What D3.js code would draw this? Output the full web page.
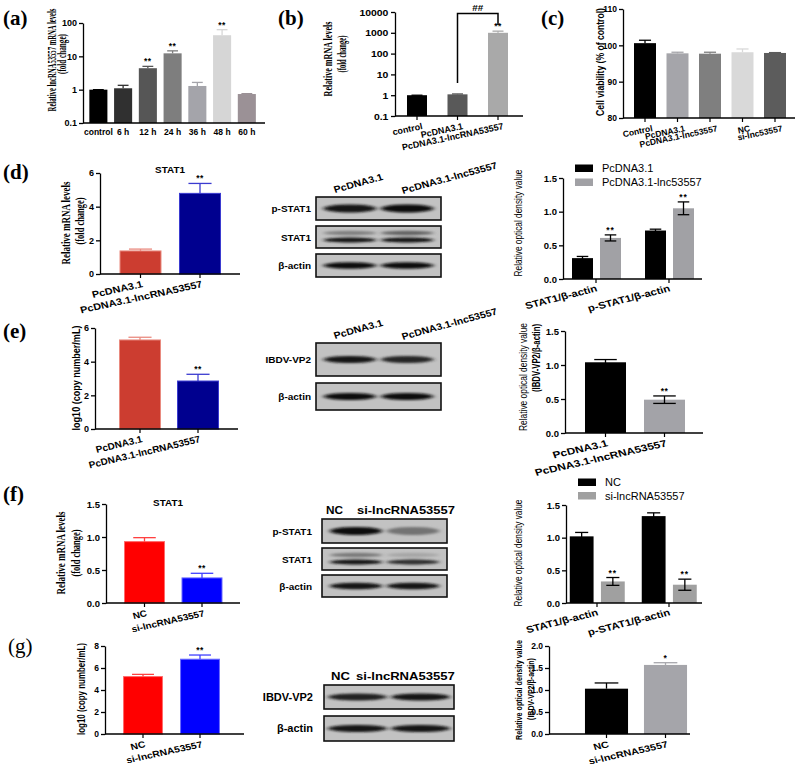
<!DOCTYPE html>
<html><head><meta charset="utf-8">
<script src="https://cdn.jsdelivr.net/npm/d3@7"></script>
<style>body{margin:0;background:#fff}</style>
</head><body>
<script>
// ================= DATA =================
const aCats = ["control","6 h","12 h","24 h","36 h","48 h","60 h"];
const aVals = [1.0, 1.1, 4.4, 12.3, 1.29, 43, 0.74];
const aHi   = [1.0, 1.35, 5.0, 14.6, 1.65, 63, 0.76];
const aSig  = ["","","**","**","","**",""];
const aTicks = [0.1,1,10,100];

const bCats = ["control","PcDNA3.1","PcDNA3.1-lncRNA53557"];
const bVals = [1.0, 1.1, 1000];
const bHi   = [1.0, 1.15, 1200];
const bSig  = ["","","**"];
const bTicks = [0.1,1,10,100,1000,10000];

const cCats = ["Control","PcDNA3.1","PcDNA3.1-lnc53557","NC","si-lnc53557"];
const cVals = [100.6, 97.8, 97.7, 98.1, 97.9];
const cHi   = [101.4, 98.1, 98.1, 99.0, 98.0];
const cTicks = [80,90,100,110];

const dCats = ["PcDNA3.1","PcDNA3.1-lncRNA53557"];
const dVals = [1.37, 4.79];
const dHi   = [1.48, 5.38];
const dSig  = ["","**"];
const dTicks = [0,2,4,6];

const dGroups = ["STAT1/β-actin","p-STAT1/β-actin"];
const dSeries = ["PcDNA3.1","PcDNA3.1-lnc53557"];
const dOD    = [[0.31,0.61],[0.72,1.05]];
const dODerr = [[0.025,0.045],[0.02,0.095]];
const dODsig = [["","**"],["","**"]];
const odTicks = [0,0.5,1.0,1.5];

const dBlotRows  = ["p-STAT1","STAT1","β-actin"];
const dBlotLanes = ["PcDNA3.1","PcDNA3.1-lnc53557"];
const dBlotMain  = [[0.93,0.97],[0.9,0.92],[0.96,0.96]];
const dBlotUpper = [[0,0],[0.35,0.5],[0,0]];

const eCats = ["PcDNA3.1","PcDNA3.1-lncRNA53557"];
const eVals = [5.29, 2.85];
const eHi   = [5.45, 3.25];
const eSig  = ["","**"];
const eTicks = [0,2,4,6];
const eBlotRows  = ["IBDV-VP2","β-actin"];
const eBlotMain  = [[0.9,0.82],[0.95,0.95]];
const eOD    = [1.04, 0.49];
const eODerr = [0.04, 0.055];
const eODsig = ["","**"];

const fCats = ["NC","si-lncRNA53557"];
const fVals = [0.93, 0.38];
const fHi   = [0.99, 0.45];
const fSig  = ["","**"];
const fTicks = [0,0.5,1.0,1.5];
const fGroups = ["STAT1/β-actin","p-STAT1/β-actin"];
const fSeries = ["NC","si-lncRNA53557"];
const fOD    = [[1.02,0.33],[1.33,0.28]];
const fODerr = [[0.06,0.06],[0.05,0.085]];
const fODsig = [["","**"],["","**"]];
const fBlotRows  = ["p-STAT1","STAT1","β-actin"];
const fBlotLanes = ["NC","si-lncRNA53557"];
const fBlotMain  = [[0.97,0.42],[0.9,0.78],[0.93,0.93]];
const fBlotUpper = [[0,0],[0.38,0.15],[0,0]];

const gCats = ["NC","si-lncRNA53557"];
const gVals = [5.22, 6.8];
const gHi   = [5.42, 7.18];
const gSig  = ["","**"];
const gTicks = [0,2,4,6,8];
const gBlotRows = ["IBDV-VP2","β-actin"];
const gBlotMain = [[0.85,0.93],[0.93,0.93]];
const gOD    = [1.03, 1.57];
const gODerr = [0.13, 0.05];
const gODsig = ["","*"];
const gODTicks = [0,0.5,1.0,1.5,2.0];

// ================= DRAWING =================
const W=800,H=765;
const SANS="'Liberation Sans', Arial, sans-serif";
const SERIF="'Liberation Serif','Times New Roman', serif";
const svg=d3.select("body").append("svg").attr("width",W).attr("height",H);
svg.append("rect").attr("width",W).attr("height",H).attr("fill","#fff");
const defs=svg.append("defs");
defs.append("filter").attr("id","blur").attr("x","-30%").attr("y","-150%").attr("width","160%").attr("height","400%")
  .append("feGaussianBlur").attr("stdDeviation","2.4 1.1");

// text helper; when o.len is given the font size is fitted to that length and
// the glyphs are stretched across the line to keep the visual height of o.fs
function txt(p,s,x,y,o={}){
  const fs=o.fs||9;
  const t=p.append("text").text(s)
    .attr("font-family",o.ff||SANS).attr("font-size",fs).attr("font-weight",o.fw||"bold")
    .attr("text-anchor",o.anchor||"start").attr("fill",o.fill||"#000");
  if(o.ls) t.attr("letter-spacing",o.ls);
  let sx=o.sx||1, sy=1;
  if(o.len){
    const L=t.node().getComputedTextLength();
    const f2=fs*o.len/L; t.attr("font-size",f2);
    const k=fs/f2;
    if(o.rot===-90) sx*=k; else sy*=k;
  }
  t.attr("transform",`translate(${x},${y})`+((sx!==1||sy!==1)?` scale(${sx},${sy})`:"")+(o.rot?` rotate(${o.rot})`:""));
  return t;
}
const fmt1=d3.format(".1f");

function yAxis(g,y,o){
  const ax=d3.axisLeft(y).tickValues(o.ticks).tickFormat(o.fmt||(d=>d)).tickSize(4).tickSizeOuter(0).tickPadding(2);
  const a=g.append("g").attr("transform",`translate(${o.x0},0)`).call(ax);
  a.selectAll("path,line").attr("stroke","#000").attr("stroke-width",1.3);
  a.selectAll("text").attr("font-family",SANS).attr("font-weight","bold").attr("font-size",o.tickFs||9.5)
    .attr("fill","#000").attr("transform",`scale(${o.tickSx||1},1)`);
  a.attr("font-family",null).attr("font-size",null);
  g.append("line").attr("x1",o.x0).attr("x2",o.x1).attr("y1",o.yBot).attr("y2",o.yBot).attr("stroke","#000").attr("stroke-width",1.3);
}

function errBar(g,cx,top,bot,cap,color,lower){
  g.append("line").attr("x1",cx).attr("x2",cx).attr("y1",top).attr("y2",bot).attr("stroke",color).attr("stroke-width",1.3);
  g.append("line").attr("x1",cx-cap/2).attr("x2",cx+cap/2).attr("y1",top).attr("y2",top).attr("stroke",color).attr("stroke-width",1.3);
  if(lower) g.append("line").attr("x1",cx-cap/2).attr("x2",cx+cap/2).attr("y1",bot).attr("y2",bot).attr("stroke",color).attr("stroke-width",1.3);
}

function barPanel(o){
  const g=svg.append("g");
  const y=(o.log?d3.scaleLog():d3.scaleLinear()).domain([o.ticks[0],o.ticks[o.ticks.length-1]]).range([o.yBot,o.yTop]);
  const x=d3.scaleBand().domain(o.cats).range(o.band).paddingInner(o.pad).paddingOuter(o.pad/2);
  const bw=x.bandwidth(), cx=d=>x(d)+bw/2;
  g.selectAll("rect.bar").data(o.cats).join("rect").attr("class","bar")
    .attr("x",d=>x(d)+(o.strokes?0.5:0)).attr("width",bw-(o.strokes?1:0))
    .attr("y",(d,i)=>y(o.vals[i])).attr("height",(d,i)=>o.yBot-y(o.vals[i]))
    .attr("fill",(d,i)=>o.colors[i])
    .attr("stroke",(d,i)=>o.strokes?o.strokes[i]:"none").attr("stroke-width",1);
  const cap=bw*(o.capFrac||0.55);
  o.cats.forEach((d,i)=>{
    const ec=o.errColors?o.errColors[i]:o.colors[i];
    const top=y(o.hi[i]);
    const lo=o.lo?y(o.lo[i]):y(o.vals[i]);
    errBar(g,cx(d),top,lo,cap,ec,!!o.lo);
    if(o.sig&&o.sig[i]) txt(g,o.sig[i],cx(d),top-2,{anchor:"middle",fs:o.sigFs||8.5,ls:0.5});
  });
  yAxis(g,y,o);
  if(o.xticks!==false){
    o.cats.forEach(d=>g.append("line").attr("x1",cx(d)).attr("x2",cx(d)).attr("y1",o.yBot).attr("y2",o.yBot+4).attr("stroke","#000").attr("stroke-width",1.2));
  }
  o.cats.forEach((d,i)=>{
    if(o.rot===0) txt(g,d,cx(d),o.yBot+12,{anchor:"middle",fs:o.xFs||9});
    else txt(g,d,cx(d)+(o.ldx||3),o.yBot+(o.ldy||11),{anchor:"end",fs:o.xFs||9,rot:o.rot||-13,sx:o.xsx||1});
  });
  return {g,x,y,cx};
}

function groupPanel(o){
  const g=svg.append("g");
  const y=d3.scaleLinear().domain([o.ticks[0],o.ticks[o.ticks.length-1]]).range([o.yBot,o.yTop]);
  const x0=d3.scaleBand().domain(o.groups).range(o.band).padding(0);
  const x1=d3.scaleBand().domain(o.series).range(o.inner).paddingInner(o.pad).paddingOuter(0);
  const bw=x1.bandwidth();
  o.groups.forEach((gr,gi)=>{
    o.series.forEach((s,si)=>{
      const bx=x0(gr)+x1(s), v=o.vals[gi][si], e=o.err[gi][si];
      g.append("rect").attr("x",bx).attr("width",bw).attr("y",y(v)).attr("height",o.yBot-y(v)).attr("fill",o.colors[si]);
      errBar(g,bx+bw/2,y(v+e),y(v-e),bw*0.55,"#000",true);
      if(o.sig[gi][si]) txt(g,o.sig[gi][si],bx+bw/2,y(v+e)-2,{anchor:"middle",fs:8.5,ls:1});
    });
    const gc=x0(gr)+x0.bandwidth()/2;
    g.append("line").attr("x1",gc).attr("x2",gc).attr("y1",o.yBot).attr("y2",o.yBot+4).attr("stroke","#000").attr("stroke-width",1.2);
    txt(g,gr,gc+(o.ldx||2),o.yBot+(o.ldy||12),{anchor:"end",fs:9.5,rot:-17,sx:1.2});
  });
  yAxis(g,y,o);
  if(o.legend){
    o.series.forEach((s,si)=>{
      g.append("rect").attr("x",o.legend[0]).attr("y",o.legend[1]+si*o.legend[2]).attr("width",18).attr("height",7.5).attr("fill",o.colors[si]);
      txt(g,s,o.legend[0]+27,o.legend[1]+si*o.legend[2]+7.5,{fw:"normal",fs:10.5,sx:1.05});
    });
  }
  return g;
}

function blotPanel(o){
  const g=svg.append("g");
  const lx=d3.scaleBand().domain(o.lanes).range([o.x0,o.x1]).paddingInner(o.pi).paddingOuter(o.po);
  const bw=lx.bandwidth();
  o.rows.forEach((r,ri)=>{
    const y0=o.boxes[ri][0], y1=o.boxes[ri][1], mid=(y0+y1)/2;
    const cid="clip"+o.id+ri;
    defs.append("clipPath").attr("id",cid).append("rect").attr("x",o.x0).attr("y",y0).attr("width",o.x1-o.x0).attr("height",y1-y0);
    g.append("rect").attr("x",o.x0).attr("y",y0).attr("width",o.x1-o.x0).attr("height",y1-y0).attr("fill","#c2c2c2");
    const bg=g.append("g").attr("clip-path",`url(#${cid})`);
    o.lanes.forEach((l,li)=>{
      const cx=lx(l)+bw/2;
      const col=d3.interpolateRgb("#c2c2c2","#050505");
      if(o.upper && o.upper[ri][li]>0)
        bg.append("ellipse").attr("cx",cx).attr("cy",mid-4).attr("rx",bw/2).attr("ry",2.2).attr("fill",col(o.upper[ri][li])).attr("filter","url(#blur)");
      const dy=(o.upper && (o.upper[ri][0]>0||o.upper[ri][1]>0))?3:0;
      bg.append("ellipse").attr("cx",cx).attr("cy",mid+dy).attr("rx",bw/2).attr("ry",o.bandH[ri]/2).attr("fill",col(o.main[ri][li])).attr("filter","url(#blur)");
    });
    g.append("rect").attr("x",o.x0).attr("y",y0).attr("width",o.x1-o.x0).attr("height",y1-y0).attr("fill","none").attr("stroke","#111").attr("stroke-width",1.6);
    txt(g,r,o.labelX,mid+3.5,{anchor:"end",fs:o.labelFs||9.5,sx:1.05});
  });
  return g;
}

function ylab(p,s,x,cy,o={}){ return txt(p,s,x,cy,Object.assign({anchor:"middle",rot:-90},o)); }

// ---------- panel letters ----------
const PL=[["(a)",3,25],["(b)",278,25],["(c)",541,25],["(d)",3,179],["(e)",3,338],["(f)",3,501]];
PL.forEach(p=>txt(svg,p[0],p[1],p[2],{ff:SERIF,fs:21}));
txt(svg,"(g)",8,653,{ff:SERIF,fs:21,fw:"normal"});

// ---------- (a) ----------
barPanel({cats:aCats,vals:aVals,hi:aHi,sig:aSig,ticks:aTicks,log:true,
  colors:["#000000","#303030","#565656","#7e7e7e","#a4a4aa","#d6d6d6","#9b9196"],
  x0:83,x1:265,yTop:23,yBot:123,band:[86,259.2],pad:0.27,rot:0,xticks:false,capFrac:0.6,tickFs:9,xFs:8.5});
ylab(svg,"Relative lncRNA53557 mRNA levels",56,60,{ff:SERIF,fs:11.5,len:103});
ylab(svg,"(fold change)",66,54,{ff:SERIF,fs:11.5,len:40});

// ---------- (b) ----------
const pb=barPanel({cats:bCats,vals:bVals,hi:bHi,sig:bSig,ticks:bTicks,log:true,
  colors:["#000000","#595959","#a9a9a9"],tickFs:9.5,tickSx:1.1,
  x0:395,x1:523,yTop:12,yBot:116,band:[396.75,518.25],pad:0.506,rot:-12,ldx:6,ldy:13});
ylab(svg,"Relative  mRNA levels",332,59,{ff:SERIF,fs:12,len:75});
ylab(svg,"(fold change)",346,54,{ff:SERIF,fs:12,len:37});
{ const x1=pb.cx(bCats[1]), x2=pb.cx(bCats[2]);
  svg.append("path").attr("d",`M${x1},83V13.5H${x2}V25`).attr("fill","none").attr("stroke","#000").attr("stroke-width",1.5);
  txt(svg,"##",(x1+x2)/2,11,{anchor:"middle",fs:9,sx:1.1}); }

// ---------- (c) ----------
barPanel({cats:cCats,vals:cVals,hi:cHi,ticks:cTicks,tickFs:8.5,
  colors:["#000000","#a5a5aa","#7f7f7f","#d9d9d9","#5c5c5c"],
  x0:623,x1:795,yTop:9,yBot:118,band:[628.75,791.25],pad:0.323,rot:-12,ldx:8,ldy:13,xFs:8.5});
ylab(svg,"Cell viability (% of control)",604,62,{fs:10.5,len:108});

// ---------- (d) left ----------
barPanel({cats:dCats,vals:dVals,hi:dHi,sig:dSig,ticks:dTicks,tickFs:9,
  colors:["#cc3d30","#00008f"],strokes:["#e98a7f","#3b3bd0"],errColors:["#e98a7f","#3b3bd0"],
  x0:100,x1:240,yTop:173,yBot:274,band:[110.75,229.75],pad:0.294,rot:-14,ldx:3,ldy:13,xFs:9.5,xsx:1.15});
txt(svg,"STAT1",170,173,{anchor:"middle",fs:9,sx:1.1});
ylab(svg,"Relative  mRNA levels",70,223,{ff:SERIF,fs:12,len:83});
ylab(svg,"(fold change)",84,221,{ff:SERIF,fs:12,len:47});

// ---------- (d) blot ----------
blotPanel({id:"d",rows:dBlotRows,lanes:dBlotLanes,main:dBlotMain,upper:dBlotUpper,
  x0:316,x1:441,pi:0.08,po:0.13,boxes:[[197,220],[226,248],[254,277]],bandH:[8,5,6.5],labelX:311});
txt(svg,dBlotLanes[0],335,193,{fs:9.5,rot:-17,sx:1.12});
txt(svg,dBlotLanes[1],403,194,{fs:9.5,rot:-17,sx:1.12});

// ---------- (d) right ----------
groupPanel({groups:dGroups,series:dSeries,vals:dOD,err:dODerr,sig:dODsig,ticks:odTicks,fmt:fmt1,
  colors:["#000000","#a1a1a5"],x0:563,x1:702,yTop:178,yBot:279,band:[559.5,705.5],inner:[12.5,61.5],pad:0.25,
  legend:[575,164.5,14]});
ylab(svg,"Relative optical density value",522,223,{fs:10.5,fw:"normal",len:107});

// ---------- (e) left ----------
barPanel({cats:eCats,vals:eVals,hi:eHi,sig:eSig,ticks:eTicks,tickFs:9,
  colors:["#cc3d30","#00008f"],strokes:["#e98a7f","#3b3bd0"],errColors:["#e98a7f","#3b3bd0"],
  x0:95,x1:238,yTop:328,yBot:429,band:[111,227],pad:0.276,rot:-14,ldx:3,ldy:13,xFs:9.5,xsx:1.05});
ylab(svg,"log10 (copy number/mL)",80,378,{fs:10.5,len:105});

// ---------- (e) blot ----------
blotPanel({id:"e",rows:eBlotRows,lanes:dBlotLanes,main:eBlotMain,
  x0:316,x1:441,pi:0.08,po:0.13,boxes:[[343,376],[383,410]],bandH:[7,7],labelX:311});
txt(svg,dBlotLanes[0],335,339,{fs:9.5,rot:-17,sx:1.12});
txt(svg,dBlotLanes[1],403,340,{fs:9.5,rot:-17,sx:1.12});

// ---------- (e) right ----------
barPanel({cats:eCats,vals:eOD,hi:eOD.map((v,i)=>v+eODerr[i]),lo:eOD.map((v,i)=>v-eODerr[i]),sig:eODsig,ticks:odTicks,fmt:fmt1,
  colors:["#000000","#a3a3a8"],errColors:["#000","#000"],
  x0:565,x1:703,yTop:331,yBot:433,band:[576,694],pad:0.305,rot:-16,ldx:3,ldy:13,xFs:9.5,xsx:1.25});
ylab(svg,"Relative optical density value",527,377,{fs:10,fw:"normal",len:108});
ylab(svg,"(IBDV-VP2/β-actin)",540,358,{fs:10,fw:"bold",len:68});

// ---------- (f) left ----------
barPanel({cats:fCats,vals:fVals,hi:fHi,sig:fSig,ticks:fTicks,fmt:fmt1,
  colors:["#ff0000","#0000ff"],strokes:["#ff6a6a","#6a6aff"],errColors:["#ff4040","#4040ff"],
  x0:106,x1:240,yTop:504,yBot:603,band:[115.75,230.75],pad:0.287,rot:-14,ldx:3,ldy:13,xFs:9,xsx:1.1});
txt(svg,"STAT1",168,506,{anchor:"middle",fs:9,sx:1.1});
ylab(svg,"Relative mRNA levels",65,553,{ff:SERIF,fs:12,len:83});
ylab(svg,"(fold change)",80,553,{ff:SERIF,fs:12,len:47});

// ---------- (f) blot ----------
blotPanel({id:"f",rows:fBlotRows,lanes:fBlotLanes,main:fBlotMain,upper:fBlotUpper,
  x0:322,x1:447,pi:0.08,po:0.135,boxes:[[519,543],[548,570],[575,597]],bandH:[8,5,6.5],labelX:312});
txt(svg,fBlotLanes[0],326,514,{fs:11,len:17});
txt(svg,fBlotLanes[1],357,514,{fs:11,len:98});

// ---------- (f) right ----------
groupPanel({groups:fGroups,series:fSeries,vals:fOD,err:fODerr,sig:fODsig,ticks:odTicks,fmt:fmt1,
  colors:["#000000","#a0a0a0"],x0:566,x1:702,yTop:505,yBot:603,band:[561,705],inner:[8.75,63.75],pad:0.236,
  legend:[578,478.5,13.5]});
ylab(svg,"Relative optical density value",522,553,{fs:10.5,fw:"normal",len:107});

// ---------- (g) left ----------
barPanel({cats:gCats,vals:gVals,hi:gHi,sig:gSig,ticks:gTicks,
  colors:["#ff0000","#0000ff"],strokes:["#ff6a6a","#6a6aff"],errColors:["#ff4040","#4040ff"],
  x0:105,x1:244,yTop:646,yBot:734,band:[114.5,228.5],pad:0.3,rot:-14,ldx:3,ldy:13,tickFs:8.5,xsx:1.15});
ylab(svg,"log10 (copy number/mL)",85,689,{fs:10,len:92});

// ---------- (g) blot ----------
blotPanel({id:"g",rows:gBlotRows,lanes:fBlotLanes,main:gBlotMain,
  x0:324,x1:454,pi:0.06,po:0.06,boxes:[[685,709],[716,741]],bandH:[7,7],labelX:313,labelFs:10.5});
txt(svg,fBlotLanes[0],331,680,{fs:11,len:19});
txt(svg,fBlotLanes[1],356,680,{fs:11,len:99});

// ---------- (g) right ----------
barPanel({cats:gCats,vals:gOD,hi:gOD.map((v,i)=>v+gODerr[i]),sig:gODsig,ticks:gODTicks,fmt:fmt1,
  colors:["#000000","#a5a5aa"],errColors:["#000","#a5a5aa"],
  x0:549,x1:690,yTop:646,yBot:734,band:[577,695],pad:0.27,rot:-15,ldx:3,ldy:13,tickFs:8.5,xsx:1.2});
ylab(svg,"Relative optical density value",522,690,{fs:9.5,len:100});
ylab(svg,"(IBDV-VP2/β-actin)",534,689,{fs:9.5,len:62});
</script>
</body></html>
